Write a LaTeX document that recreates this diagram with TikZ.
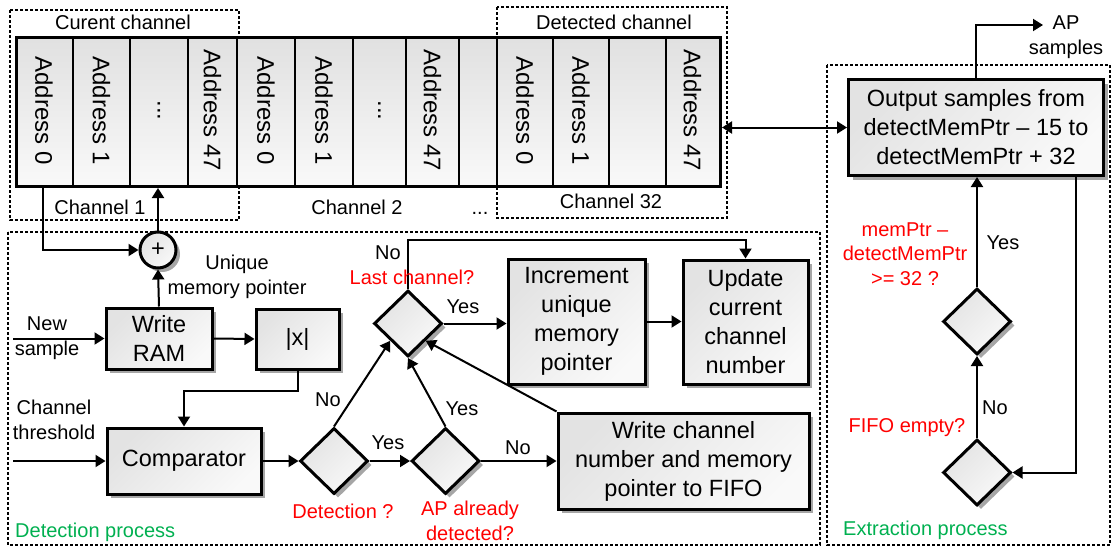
\documentclass[tikz,border=0pt]{standalone}
\usepackage{fontspec}
\setmainfont{Liberation Sans}
\usetikzlibrary{shapes.geometric,shadows,arrows.meta,calc}
\definecolor{lblred}{RGB}{255,0,0}
\definecolor{lblgreen}{RGB}{0,176,80}
\newcommand\tdots{...}
\tikzset{
  shad/.style={drop shadow={shadow xshift=4pt, shadow yshift=-4pt, fill=black!35, opacity=1}},
  fillgrad/.style={top color=gray!22, bottom color=gray!5, shading angle=45},
  box/.style={draw, line width=3pt, rectangle, fillgrad, shad,
    align=center, font=\fontsize{23.5}{29}\selectfont, inner sep=0pt},
  dia/.style={draw, line width=3pt, diamond, minimum width=68pt, minimum height=66pt,
    inner sep=0pt, fillgrad, shad},
  lbl/.style={font=\fontsize{20}{24.5}\selectfont, align=center, inner sep=0pt},
  rlbl/.style={lbl, text=lblred},
  glbl/.style={lbl, text=lblgreen, anchor=west},
  arr/.style={line width=2pt, -{Triangle[length=10pt,width=12pt]}},
  arrboth/.style={line width=2pt, {Triangle[length=10pt,width=12pt]}-{Triangle[length=10pt,width=12pt]}},
  grp/.style={line width=1.6pt, dash pattern=on 3pt off 2pt},
  cellfont/.style={font=\fontsize{24}{28}\selectfont, inner sep=0pt}
}
\begin{document}
\begin{tikzpicture}[x=1pt,y=-1pt]
\useasboundingbox (0,0) rectangle (1111,546);

% group boxes
\draw[grp] (10,10) rectangle (239,220);
\draw[grp] (497,7) rectangle (727,218);
\draw[grp] (8,232) rectangle (820,545);
\draw[grp] (827,65) rectangle (1110,545);

% memory strip
\foreach \a/\b/\t [count=\i] in {15/73/Address 0,73/130/Address 1,130/188/\tdots,188/237/Address 47,
  237/295/Address 0,295/353/Address 1,353/406/\tdots,406/459/Address 47,459/497/,
  497/553/Address 0,553/609/Address 1,609/666/,666/719/Address 47}{
  \shade[top color=gray!24, bottom color=gray!5] (\a,36) rectangle (\b,185);
  \node[rotate=-90, cellfont] (cell\i) at ({(\a+\b)/2},110.5) {\t};
}
\foreach \b in {73,130,188,237,295,353,406,459,497,553,609,666}{
  \draw[line width=2.5pt] (\b,36) -- (\b,185);
}
\node[draw, line width=3pt, minimum width=704pt, minimum height=149pt, anchor=north west, inner sep=0pt] (mem) at (15,36) {};

\node[lbl] (lcur) at (123,22) {Curent channel};
\node[lbl] (ldet) at (614,22) {Detected channel};
\node[lbl] (lch1) at (100,207) {Channel 1};
\node[lbl] (lch2) at (357,207) {Channel 2};
\node[lbl, anchor=base] (ldots) at (480,214) {\tdots};
\node[lbl] (lch32) at (611,201) {Channel 32};

% detection process
\node[circle, draw, line width=3pt, minimum size=36pt, inner sep=0pt, fillgrad, shad,
  font=\fontsize{23.5}{28}\selectfont] (sum) at (158,250) {+};
\node[box, minimum width=106pt, minimum height=61pt] (wram) at (159,338.5) {Write\\RAM};
\node[box, minimum width=83pt, minimum height=60pt] (abs) at (297.5,339) {|x|};
\node[box, minimum width=154pt, minimum height=66pt] (comp) at (184,461) {Comparator};
\node[dia] (d1) at (334,461) {};
\node[dia] (d2) at (445.5,461) {};
\node[dia] (d3) at (408,323.5) {};
\node[box, minimum width=137pt, minimum height=125pt] (inc) at (576.5,321.5) {Increment\\unique\\memory\\pointer};
\node[box, minimum width=125pt, minimum height=124pt] (upd) at (745.5,322) {Update\\current\\channel\\number};
\node[box, minimum width=251pt, minimum height=96pt] (fifo) at (683.5,461) {Write channel\\number and memory\\pointer to FIFO};

\coordinate (m1) at (43,185);
\coordinate (ns) at (13,338.5);
\coordinate (ct) at (13,461);
\draw[arr] (m1) |- (sum.west);
\draw[arr] (sum.north) -- (sum.north |- mem.south);
\draw[arr] (wram.north) -- (sum.south);
\draw[arr] (ns) -- (wram.west);
\draw[arr] (wram.east) -- (abs.west);
\draw[arr] (abs.south) -- ++(0,20) -| (comp.north);
\draw[arr] (ct) -- (comp.west);
\draw[arr] (comp.east) -- (d1.west);
\draw[arr] (d1.east) -- (d2.west);
\draw[arr] (d2.east) -- (fifo.west);
\draw[arr] (d1.north) -- (d3.south west);
\draw[arr] (d2.north) -- (d3.south);
\draw[arr] (fifo.north west) -- (d3.south east);
\draw[arr] (d3.east) -- (d3.east -| inc.west);
\draw[arr] (d3.north) -- ++(0,-49) -| (upd.north);
\draw[arr] (inc.east) -- (inc.east -| upd.west);

\node[lbl] (lnew) at (47,338) {New\\sample};
\node[lbl] (lthr) at (54,420) {Channel\\threshold};
\node[lbl] (luni) at (237,277) {Unique\\memory pointer};
\node[lbl] (ly1) at (388,443) {Yes};
\node[lbl] (ln1) at (328,400) {No};
\node[lbl] (ly2) at (462,409) {Yes};
\node[lbl] (ln2) at (518,448) {No};
\node[lbl] (ln3) at (388,253) {No};
\node[lbl] (ly3) at (463,307) {Yes};
\node[rlbl] (rlast) at (412,277) {Last channel?};
\node[rlbl] (rdet) at (343,511) {Detection ?};
\node[rlbl] (rap) at (470,521) {AP already\\detected?};
\node[glbl] (gdet) at (15,532) {Detection process};

% extraction process
\node[box, minimum width=255pt, minimum height=96pt] (out) at (976,127.5) {Output samples from\\detectMemPtr – 15 to\\detectMemPtr + 32};
\node[dia] (d4) at (977,321.5) {};
\node[dia] (d5) at (977,472.5) {};
\coordinate (apend) at (1043,25);
\draw[arrboth] (mem.east |- out.west) -- (out.west);
\draw[arr] (out.north) |- (apend);
\draw[arr] (d4.north) -- (d4.north |- out.south);
\draw[arr] (d5.north) -- (d4.south);
\draw[arr] ([xshift=100pt]out.south) |- (d5.east);

\node[lbl] (lap) at (1066,37) {AP\\samples};
\node[lbl] (ly4) at (1003,243) {Yes};
\node[lbl] (ln4) at (995,408) {No};
\node[rlbl] (rmem) at (905,254) {memPtr –\\detectMemPtr\\>= 32 ?};
\node[rlbl] (rfifo) at (907,428) {FIFO empty?};
\node[glbl] (gext) at (843,530) {Extraction process};
\end{tikzpicture}
\end{document}
